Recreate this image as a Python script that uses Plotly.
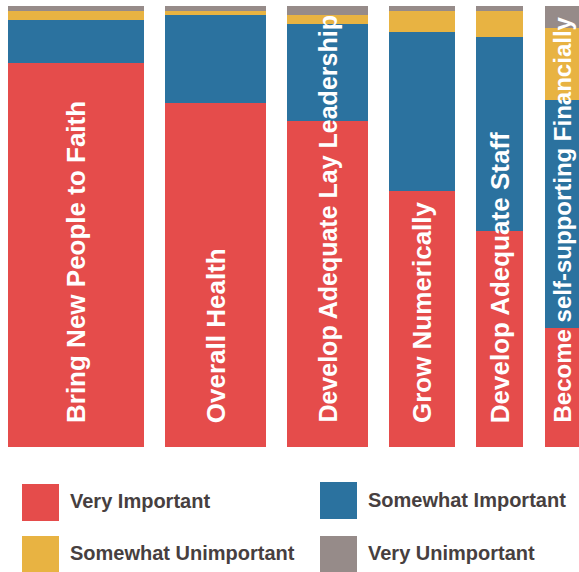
import plotly.graph_objects as go

# ---- data ----
categories = [
    "Bring New People to Faith",
    "Overall Health",
    "Develop Adequate Lay Leadership",
    "Grow Numerically",
    "Develop Adequate Staff",
    "Become self-supporting Financially",
]
series_names = ["Very Important", "Somewhat Important", "Somewhat Unimportant", "Very Unimportant"]
very_important = [87.1, 77.9, 74.0, 58.1, 49.0, 27.0]
somewhat_important = [9.8, 20.0, 21.9, 35.9, 43.9, 51.7]
somewhat_unimportant = [2.0, 1.0, 2.1, 4.9, 6.0, 16.2]
very_unimportant = [1.1, 1.1, 2.0, 1.1, 1.1, 5.1]
bar_weights = [136, 100.7, 80.6, 65.7, 47, 34]  # relative bar widths

# ---- styles ----
colors = ["#E54C4B", "#2B729F", "#E8B342", "#968B89"]
W, H = 579, 572
plot_top, plot_bottom = 6, 447
x_start, gap = 8, 21.3
label_sizes = [26, 26, 25, 26, 26, 24]

# bar positions from weights
centers, left = [], x_start
for w in bar_weights:
    centers.append(left + w / 2)
    left += w + gap

fig = go.Figure()
for name, vals, col in zip(series_names,
                           [very_important, somewhat_important, somewhat_unimportant, very_unimportant],
                           colors):
    fig.add_trace(go.Bar(x=centers, y=vals, width=bar_weights, name=name,
                         marker=dict(color=col, line=dict(width=0)),
                         hoverinfo="skip", showlegend=False))

def px(x):
    return x / W

def py(y):
    return (H - y) / H

annotations = []
for c, cat, fs in zip(centers, categories, label_sizes):
    annotations.append(dict(x=c, y=0, xref="x", yref="y", text=cat, showarrow=False,
                            textangle=-90, xanchor="center", yanchor="bottom", yshift=22,
                            font=dict(family="Liberation Sans, Arial", size=fs, color="white",
                                      weight="bold")))

# legend (manual)
legend_items = [
    (series_names[0], colors[0], 22, 484, 501),
    (series_names[1], colors[1], 320, 482, 500),
    (series_names[2], colors[2], 22, 536, 553),
    (series_names[3], colors[3], 320, 536, 553),
]
shapes = []
for name, col, sx, sy, ty in legend_items:
    shapes.append(dict(type="rect", xref="paper", yref="paper",
                       x0=px(sx), x1=px(sx + 37), y0=py(sy), y1=py(sy + 37),
                       fillcolor=col, line=dict(width=0)))
    annotations.append(dict(x=px(sx + 46), y=py(ty), xref="paper", yref="paper",
                            text=name, showarrow=False, xanchor="left", yanchor="middle",
                            font=dict(family="Liberation Sans, Arial", size=20, color="#473F40",
                                      weight="bold")))

fig.update_layout(
    width=W, height=H,
    margin=dict(l=0, r=0, t=0, b=0),
    paper_bgcolor="white", plot_bgcolor="white",
    barmode="stack",
    xaxis=dict(range=[0, W], domain=[0, 1], visible=False, fixedrange=True),
    yaxis=dict(range=[0, 100], domain=[py(plot_bottom), py(plot_top)], visible=False, fixedrange=True),
    annotations=annotations,
    shapes=shapes,
)

fig.write_html("out.html", config={"displayModeBar": False})
